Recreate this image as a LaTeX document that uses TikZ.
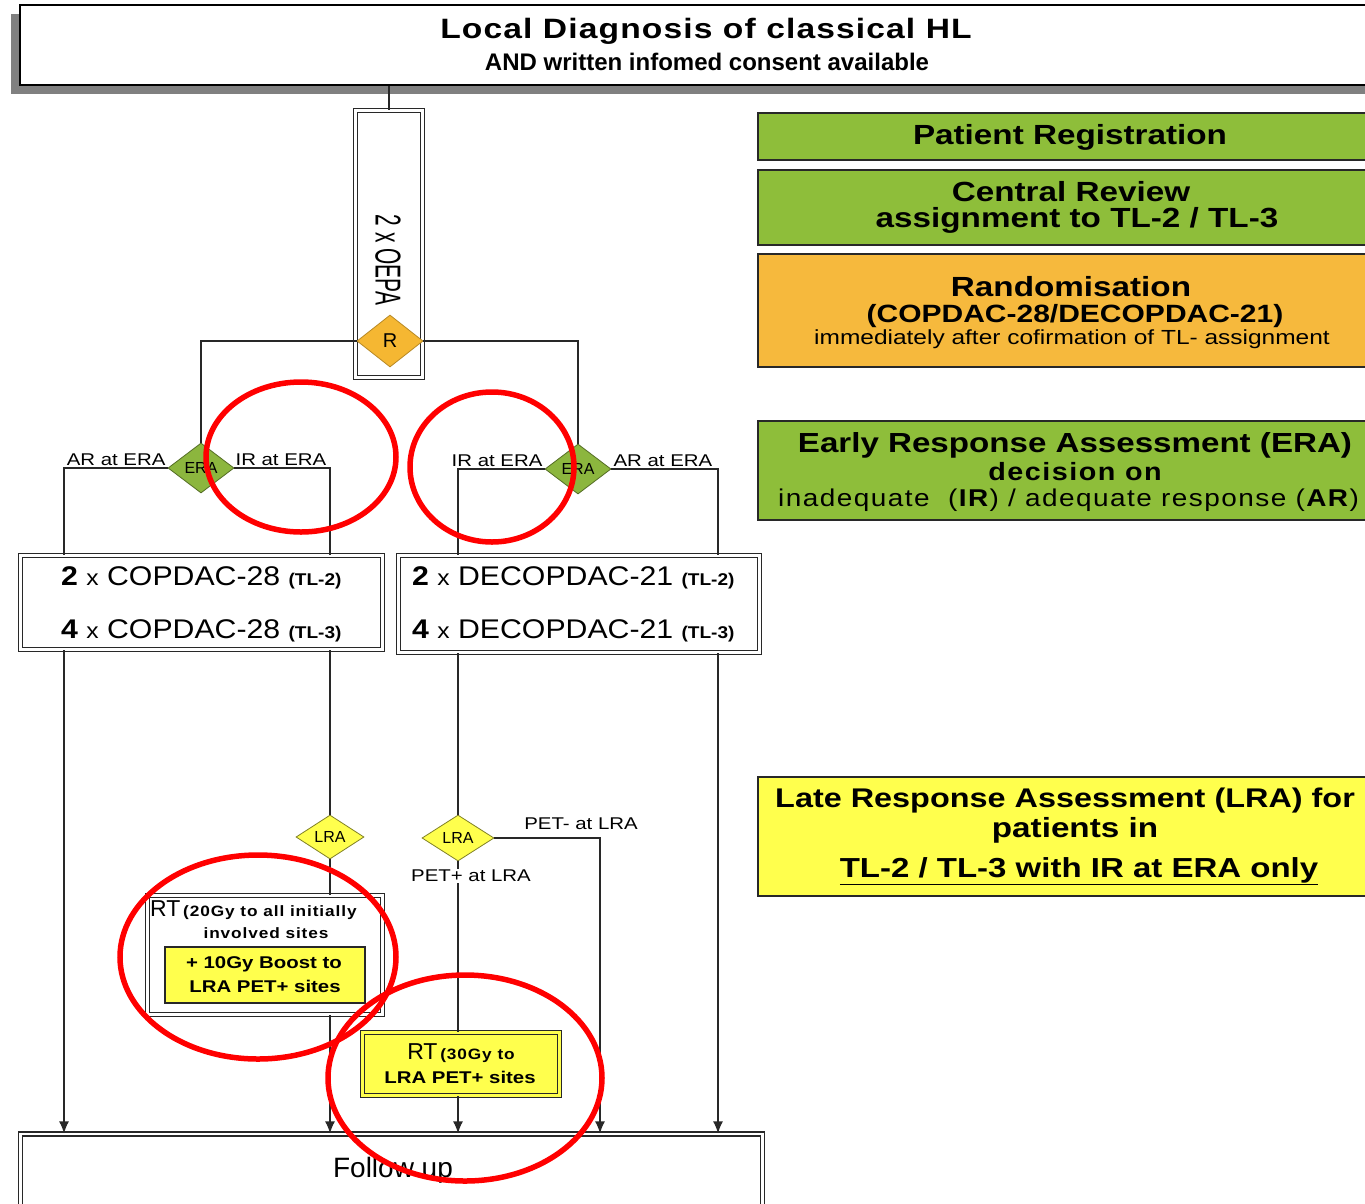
\documentclass[tikz,border=0pt]{standalone}
\usepackage{fontspec}
\setmainfont{Liberation Sans}
\newfontfamily\widef[FakeStretch=1.2]{Liberation Sans}
\newfontfamily\medf[FakeStretch=1.12]{Liberation Sans}
\newfontfamily\titlef[FakeStretch=1.2,LetterSpace=4]{Liberation Sans}
\newfontfamily\spacedf[FakeStretch=1.15,LetterSpace=6]{Liberation Sans}
\usetikzlibrary{shapes.geometric,arrows.meta,calc}
\newcommand{\fsz}[1]{\fontsize{#1}{#1}\selectfont}
\definecolor{gfill}{RGB}{142,190,58}
\definecolor{gdia}{RGB}{140,182,62}
\definecolor{ofill}{RGB}{246,185,61}
\definecolor{rdia}{RGB}{245,183,50}
\definecolor{yfill}{RGB}{255,255,77}
\definecolor{shadowgray}{RGB}{128,128,128}
\definecolor{linec}{RGB}{40,40,40}
\begin{document}
\begin{tikzpicture}[x=1pt,y=-1pt,
  t/.style={inner sep=0pt, text=black},
  panel/.style={draw=linec, line width=1.8pt, inner sep=0pt, minimum width=642pt},
  dbox/.style={draw=linec, double=white, double distance=2.5pt, line width=1.3pt, inner sep=0pt},
  conn/.style={draw=linec, line width=1.3pt},
  arr/.style={conn, -{Latex[length=12pt,width=10pt]}},
  dia/.style={diamond, draw, line width=0.8pt, inner sep=0pt},
  lbl/.style={inner sep=1pt, font=\widef\fsz{17}},
  redring/.style={draw=red, line width=5.5pt}
]
\useasboundingbox (0,0) rectangle (1365,1203);
\clip (0,0) rectangle (1365,1203);
\fill[white] (0,0) rectangle (1365,1203);

% top box with shadow
\fill[shadowgray] (11,14) rectangle (1400,94);
\node[draw=black, line width=2pt, fill=white, minimum width=1380pt, minimum height=80pt, inner sep=0pt] (top) at (710,45) {};
\node[t, font=\titlef\bfseries\fsz{28}] (ttl1) at (706,31) {Local Diagnosis of classical HL};
\node[t, font=\bfseries\fsz{24}] (ttl2) at (707,62) {AND written infomed consent available};

% OEPA column
\node[dbox, minimum width=67pt, minimum height=267pt] (oepa) at (389,244) {};
\node[t, rotate=-90] (oepat) at (388,260) {\scalebox{0.58}[1]{\fsz{36}2 x OEPA}};
\node[dia, fill=rdia, draw=rdia!75!black, minimum width=66pt, minimum height=52pt, font=\fsz{20}] (R) at (390,341) {R};

% ERA diamonds
\node[dia, fill=gdia, draw=gdia!60!black, minimum width=66pt, minimum height=50pt, font=\fsz{16}] (eraL) at (201,468) {ERA};
\node[dia, fill=gdia, draw=gdia!60!black, minimum width=66pt, minimum height=50pt, font=\fsz{16}] (eraR) at (578,469) {ERA};

% treatment boxes
\node[dbox, minimum width=362pt, minimum height=94pt] (boxL) at (201.5,602.5) {};
\node[dbox, minimum width=361pt, minimum height=97pt] (boxR) at (579,604) {};
\node[t, anchor=west, font=\medf\fsz{27}] (cL1) at (61,578) {\textbf{2} {\fsz{22}x} COPDAC-28 {\bfseries\fsz{17}(TL-2)}};
\node[t, anchor=west, font=\medf\fsz{27}] (cL2) at (61,631) {\textbf{4} {\fsz{22}x} COPDAC-28 {\bfseries\fsz{17}(TL-3)}};
\node[t, anchor=west, font=\medf\fsz{27}] (cR1) at (412,578) {\textbf{2} {\fsz{22}x} DECOPDAC-21 {\bfseries\fsz{17}(TL-2)}};
\node[t, anchor=west, font=\medf\fsz{27}] (cR2) at (412,631) {\textbf{4} {\fsz{22}x} DECOPDAC-21 {\bfseries\fsz{17}(TL-3)}};

% LRA diamonds
\node[dia, fill=yfill, draw=yfill!50!black, minimum width=68pt, minimum height=44pt, font=\fsz{16}] (lraL) at (330,837) {LRA};
\node[dia, fill=yfill, draw=yfill!50!black, minimum width=72pt, minimum height=46pt, font=\fsz{16}] (lraR) at (458,838) {LRA};

% RT boxes
\node[dbox, minimum width=235pt, minimum height=119pt] (rtL) at (265,955) {};
\node[t, anchor=west] (rtLa) at (150,910) {{\fsz{23}RT} {\spacedf\bfseries\fsz{15}(20Gy to all initially}};
\node[t, font=\spacedf\bfseries\fsz{15}] (rtLb) at (266,933) {involved sites};
\node[draw=linec, line width=1.4pt, fill=yfill, minimum width=200pt, minimum height=56pt, inner sep=0pt] (ybox) at (265,975) {};
\node[t, font=\widef\bfseries\fsz{17}] (yb1) at (264,964) {+ 10Gy Boost to};
\node[t, font=\widef\bfseries\fsz{17}] (yb2) at (265,986) {LRA PET+ sites};

\node[dbox, double=yfill, fill=yfill, minimum width=197pt, minimum height=63pt] (rt2) at (461,1064) {};
\node[t] (rt2a) at (461,1053) {{\fsz{23}RT} {\spacedf\bfseries\fsz{15}(30Gy to}};
\node[t, font=\widef\bfseries\fsz{17}] (rt2b) at (460,1077) {LRA PET+ sites};

% follow up
\node[dbox, minimum width=742pt, minimum height=82pt] (fu) at (391.5,1175) {};
\node[t, font=\fsz{28}] (fut) at (393,1170) {Follow up};

% x positions
\coordinate (xa) at (64,0);
\coordinate (xb) at (330,0);
\coordinate (xc) at (458,0);
\coordinate (xd) at (600,0);
\coordinate (xe) at (718,0);

% connectors
\draw[conn] (oepa.north |- top.south) -- (oepa.north);
\draw[conn] (R.west) -| (eraL.north);
\draw[conn] (R.east) -| (eraR.north);
\draw[conn] (eraL.west) -| (xa |- boxL.north);
\draw[conn] (eraL.east) -| (xb |- boxL.north);
\draw[conn] (eraR.west) -| (xc |- boxR.north);
\draw[conn] (eraR.east) -| (xe |- boxR.north);
\draw[arr] (xa |- boxL.south) -- (xa |- fu.north);
\draw[conn] (xb |- boxL.south) -- (lraL.north);
\draw[conn] (lraL.south) -- (xb |- rtL.north);
\draw[arr] (xb |- rtL.south) -- (xb |- fu.north);
\draw[conn] (xc |- boxR.south) -- (lraR.north);
\draw[arr] (lraR.east) -| (xd |- fu.north);
\draw[conn] (lraR.south) -- (xc |- rt2.north);
\draw[arr] (xc |- rt2.south) -- (xc |- fu.north);
\draw[arr] (xe |- boxR.south) -- (xe |- fu.north);

% connector labels
\node[lbl, anchor=south east] (lar1) at ([xshift=-1pt,yshift=1pt]eraL.west) {AR at ERA};
\node[lbl, anchor=south west] (lir1) at ([xshift=0pt,yshift=1pt]eraL.east) {IR at ERA};
\node[lbl, anchor=south east] (lir2) at ([xshift=-1pt,yshift=1pt]eraR.west) {IR at ERA};
\node[lbl, anchor=south west] (lar2) at ([xshift=1pt,yshift=1pt]eraR.east) {AR at ERA};
\node[lbl] (pneg) at (581,824) {PET- at LRA};
\node[lbl, fill=white] (ppos) at (471,876) {PET+ at LRA};

% right panel
\node[panel, fill=gfill, minimum height=47pt] (preg) at (1079,136.5) {};
\node[t, font=\widef\bfseries\fsz{27.7}] (tpr) at (1070,137) {Patient Registration};
\node[panel, fill=gfill, minimum height=75pt] (crev) at (1079,207.5) {};
\node[t, font=\widef\bfseries\fsz{27.7}] (tcr1) at (1071,192) {Central Review};
\node[t, font=\widef\bfseries\fsz{27.7}] (tcr2) at (1077,220) {assignment to TL-2 / TL-3};
\node[panel, fill=ofill, minimum height=113pt] (rand) at (1079,310.5) {};
\node[t, font=\widef\bfseries\fsz{27.7}] (trd1) at (1071,287) {Randomisation};
\node[t, font=\widef\bfseries\fsz{25}] (trd2) at (1075,316) {(COPDAC-28/DECOPDAC-21)};
\node[t, font=\widef\fsz{20.4}] (trd3) at (1072,339) {immediately after cofirmation of TL- assignment};
\node[panel, fill=gfill, minimum height=99pt] (erab) at (1079,470.5) {};
\node[t, font=\widef\bfseries\fsz{27.6}] (te1) at (1075,445) {Early Response Assessment (ERA)};
\node[t, font=\spacedf\bfseries\fsz{25}] (te2) at (1075,472) {decision on};
\node[t, anchor=west, font=\spacedf\fsz{24.3}] (te3) at (778,500) {inadequate\ \ (\textbf{IR}) / adequate\ response\ (\textbf{AR})};
\node[panel, fill=yfill, minimum height=119pt] (lrab) at (1079,836.5) {};
\node[t, anchor=west, font=\widef\bfseries\fsz{27}] (tl1) at (775,801) {Late Response Assessment (LRA) for};
\node[t, font=\widef\bfseries\fsz{27.7}] (tl2) at (1075,830) {patients in};
\node[t, font=\widef\bfseries\fsz{27.5}] (tl3) at (1079,871) {\underline{TL-2 / TL-3 with IR at ERA only}};

% red annotation ellipses
\draw[redring] (301,457) ellipse [x radius=95pt, y radius=75pt];
\draw[redring] (492,467) ellipse [x radius=82pt, y radius=75pt];
\draw[redring] (258,957) ellipse [x radius=138pt, y radius=102pt];
\draw[redring] (465,1078) ellipse [x radius=137pt, y radius=103pt];
\end{tikzpicture}
\end{document}
